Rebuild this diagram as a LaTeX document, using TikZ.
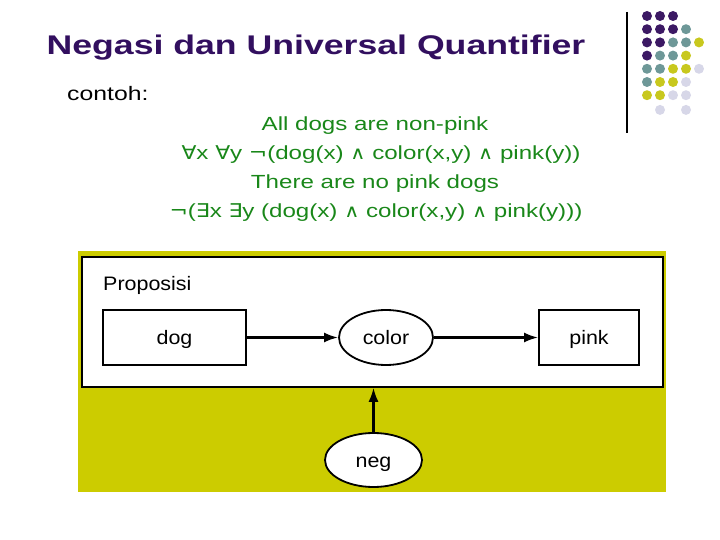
\documentclass[tikz,border=0pt]{standalone}
\usepackage{fontspec}
\setmainfont{Liberation Sans}
\newfontfamily\titlefont{Liberation Sans}[FakeStretch=1.32]
\newfontfamily\bodyfont{Liberation Sans}[FakeStretch=1.27]
\newfontfamily\symfont{DejaVu Sans}[FakeStretch=1.15]
\newfontfamily\diagfont{Liberation Sans}[FakeStretch=1.1]
\newcommand{\fa}{{\symfont ∀}}
\newcommand{\ex}{{\symfont ∃}}
\newcommand{\nt}{{\symfont ¬}}
\newcommand{\an}{{\symfont\fontsize{18}{20}\selectfont ∧}}
\usetikzlibrary{shapes.geometric,arrows.meta}
\definecolor{titlepurple}{RGB}{50,15,95}
\definecolor{textgreen}{RGB}{25,135,25}
\definecolor{olive}{RGB}{204,204,0}
\definecolor{dpurple}{RGB}{60,25,100}
\definecolor{dteal}{RGB}{110,152,152}
\definecolor{dyellow}{RGB}{200,200,30}
\definecolor{dlav}{RGB}{215,215,232}
\begin{document}
\begin{tikzpicture}[x=1pt,y=-1pt,
  titlestyle/.style={anchor=base,inner sep=0,text=titlepurple,font=\titlefont\bfseries\fontsize{27}{32}\selectfont},
  greenline/.style={anchor=base,inner sep=0,text=textgreen,font=\bodyfont\fontsize{19}{23}\selectfont},
  boxnode/.style={draw=black,line width=1.8pt,fill=white,rectangle,minimum height=55pt,inner sep=0,text height=14pt,text depth=0pt,font=\diagfont\fontsize{19.5}{23}\selectfont},
  ellnode/.style={draw=black,line width=1.8pt,fill=white,ellipse,inner sep=0,text height=14pt,text depth=0pt,font=\diagfont\fontsize{19.5}{23}\selectfont},
  conn/.style={line width=2.2pt,-{Latex[length=14pt,width=10pt]}}
]
\useasboundingbox (0,0) rectangle (720,540);
% title and heading
\node[titlestyle] (title) at (316,55) {Negasi dan Universal Quantifier};
\node[anchor=base west,inner sep=0,font=\bodyfont\fontsize{19.5}{23}\selectfont] (contoh) at (67,101) {contoh:};
% green formula lines
\node[greenline] (l1) at (375,131) {All dogs are non-pink};
\node[greenline] (l2) at (381,160) {\fa x \fa y \nt(dog(x) \an{} color(x,y) \an{} pink(y))};
\node[greenline] (l3) at (375,189) {There are no pink dogs};
\node[greenline] (l4) at (376,218) {\nt(\ex x \ex y (dog(x) \an{} color(x,y) \an{} pink(y)))};
% decorative bar and dots
\draw[line width=1.5pt] (627,12) -- (627,133);
\foreach \c/\r/\col in {0/0/dpurple,1/0/dpurple,2/0/dpurple,
  0/1/dpurple,1/1/dpurple,2/1/dpurple,3/1/dteal,
  0/2/dpurple,1/2/dpurple,2/2/dteal,3/2/dteal,4/2/dyellow,
  0/3/dpurple,1/3/dteal,2/3/dteal,3/3/dyellow,
  0/4/dteal,1/4/dteal,2/4/dyellow,3/4/dyellow,4/4/dlav,
  0/5/dteal,1/5/dyellow,2/5/dyellow,3/5/dlav,
  0/6/dyellow,1/6/dyellow,2/6/dlav,3/6/dlav,
  1/7/dlav,3/7/dlav}
  \fill[\col] ({647+13*\c},{16+13.2*\r+(\r==7?1.5:0)}) circle (5pt);
% diagram
\fill[olive] (78,251) rectangle (666,492);
\node[draw=black,line width=1.8pt,fill=white,rectangle,inner sep=0,minimum width=581pt,minimum height=130pt,anchor=north west] (prop) at (81,256) {};
\node[anchor=base west,inner sep=0,font=\diagfont\fontsize{19.5}{23}\selectfont] (plabel) at (103,290) {Proposisi};
\node[boxnode,minimum width=143pt] (dog) at (174.5,337.5) {dog};
\node[ellnode,minimum width=94pt,minimum height=55pt] (color) at (386,337.5) {color};
\node[boxnode,minimum width=100pt] (pink) at (589,337.5) {pink};
\node[ellnode,minimum width=97pt,minimum height=54pt] (neg) at (373.5,460) {neg};
\draw[conn] (dog) -- (color);
\draw[conn] (color) -- (pink);
\draw[conn] (neg.north) -- (neg.north |- prop.south);
\end{tikzpicture}
\end{document}
